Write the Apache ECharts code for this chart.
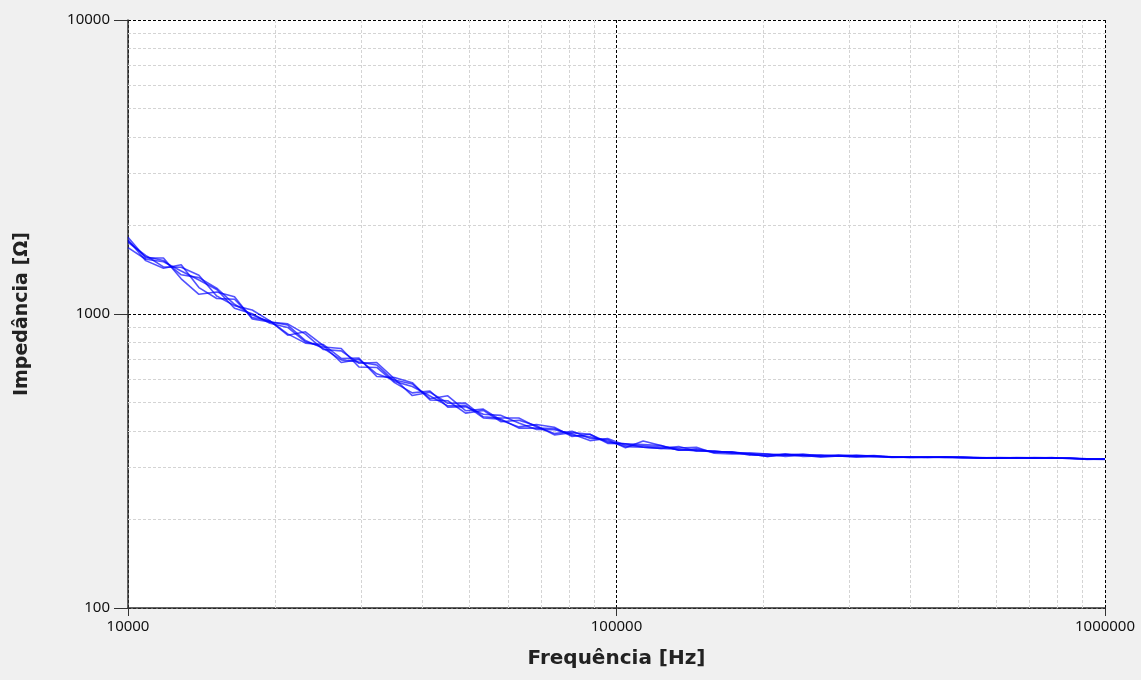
<!DOCTYPE html>
<html>
<head>
<meta charset="utf-8">
<title>Impedância × Frequência</title>
<script src="https://cdn.jsdelivr.net/npm/echarts@6/dist/echarts.min.js"></script>
<style>
  html, body { margin: 0; padding: 0; background: #f0f0f0; }
  #chart { width: 1141px; height: 680px; }
</style>
</head>
<body>
<div id="chart"></div>
<script>
// Measurement frequencies (Hz), log-spaced sweep
var frequencies = [10000, 10870, 11820, 12850, 13970, 15190, 16520, 17960, 19520, 21230,
  23080, 25120, 27320, 29700, 32300, 35120, 38190, 41520, 45150, 49090,
  53380, 58040, 63100, 68610, 74600, 81110, 88200, 95900, 104300, 113400,
  123300, 134100, 145800, 158500, 172300, 187400, 203700, 221500, 240900, 261900,
  284800, 309700, 336700, 366100, 398100, 432900, 470700, 511800, 556500, 605100,
  657900, 715400, 777900, 845800, 919700, 1000000];

// Impedance magnitude (Ω) for each repeated sweep
var sweep1 = [1824, 1550, 1551, 1317, 1167, 1188, 1145, 962, 939, 926,
  854, 757, 749, 680, 684, 602, 528, 542, 497, 498,
  447, 443, 443, 413, 392, 399, 378, 374, 351, 370,
  357, 344, 348, 339, 340, 334, 328, 334, 331, 329,
  329, 331, 328, 327, 325, 326, 326, 325, 324, 324, 324, 323, 324, 323, 322, 321];
var sweep2 = [1753, 1581, 1446, 1443, 1355, 1152, 1068, 1032, 948, 847,
  870, 780, 684, 701, 626, 596, 578, 515, 527, 469,
  475, 435, 413, 421, 412, 383, 390, 366, 362, 352,
  349, 354, 342, 342, 337, 337, 334, 331, 334, 329,
  332, 329, 330, 326, 327, 325, 327, 324, 325, 323, 325, 324, 323, 324, 320, 322];
var sweep3 = [1682, 1535, 1506, 1401, 1305, 1212, 1046, 1002, 930, 900,
  804, 772, 763, 660, 658, 584, 539, 547, 482, 484,
  456, 452, 426, 405, 404, 391, 371, 377, 358, 356,
  353, 350, 352, 336, 334, 334, 334, 328, 331, 332,
  329, 329, 329, 325, 326, 327, 325, 326, 323, 324, 323, 325, 324, 323, 321, 321];
var sweep4 = [1789, 1519, 1431, 1471, 1230, 1129, 1123, 972, 948, 856,
  796, 787, 706, 708, 613, 608, 584, 510, 507, 460,
  470, 430, 435, 417, 388, 395, 390, 363, 362, 360,
  357, 344, 345, 339, 340, 331, 331, 334, 328, 329,
  329, 326, 328, 327, 325, 326, 326, 326, 324, 325, 324, 323, 325, 322, 321, 320];
var sweep5 = [1771, 1566, 1521, 1359, 1330, 1224, 1079, 992, 939, 917,
  812, 764, 698, 687, 671, 590, 567, 526, 487, 489,
  443, 439, 409, 409, 408, 387, 382, 370, 354, 352,
  349, 347, 342, 342, 337, 334, 328, 331, 331, 326,
  329, 328, 328, 326, 326, 325, 326, 325, 324, 323, 324, 324, 323, 323, 322, 321];
var sweeps = [sweep1, sweep2, sweep3, sweep4, sweep5];

// Intermediate decade lines (2..9 × 10^n)
var minorFreqTicks = [20000, 30000, 40000, 50000, 60000, 70000, 80000, 90000,
  200000, 300000, 400000, 500000, 600000, 700000, 800000, 900000];
var minorImpTicks = [200, 300, 400, 500, 600, 700, 800, 900,
  2000, 3000, 4000, 5000, 6000, 7000, 8000, 9000];

var LABEL_FONT = 'Noto Sans';
var TITLE_FONT = 'DejaVu Sans';
var lineColor = 'rgba(0, 0, 255, 0.68)';

function plainNumber(v) { return String(Math.round(v)); }

var series = sweeps.map(function (vals, k) {
  return {
    type: 'line',
    name: 'Varredura ' + (k + 1),
    data: frequencies.map(function (f, i) { return [f, vals[i]]; }),
    showSymbol: false,
    symbol: 'none',
    lineStyle: { color: lineColor, width: 1.6 },
    z: 5,
    animation: false
  };
});

// Light dashed grid at intermediate decade values
var minorLines = minorFreqTicks.map(function (f) { return { xAxis: f }; })
  .concat(minorImpTicks.map(function (v) { return { yAxis: v }; }));
series.unshift({
  type: 'line',
  data: [],
  z: 1,
  silent: true,
  animation: false,
  markLine: {
    silent: true,
    symbol: ['none', 'none'],
    label: { show: false },
    animation: false,
    lineStyle: { color: '#d4d4d4', type: [3, 2], width: 1 },
    emphasis: { disabled: true },
    data: minorLines
  }
});

var chart = echarts.init(document.getElementById('chart'), null, { renderer: 'canvas' });
chart.setOption({
  backgroundColor: '#f0f0f0',
  animation: false,
  grid: {
    left: 128, right: 36, top: 20, bottom: 72,
    show: true, backgroundColor: '#ffffff', borderWidth: 0
  },
  xAxis: {
    type: 'log', logBase: 10, min: 10000, max: 1000000,
    name: 'Frequência [Hz]', nameLocation: 'middle', nameGap: 41,
    nameTextStyle: { fontFamily: TITLE_FONT, fontWeight: 'bold', fontSize: 20, color: '#222' },
    axisLine: { show: true, onZero: false, lineStyle: { color: '#333', width: 1.5 } },
    axisTick: { show: true, length: 8, lineStyle: { color: '#333' } },
    axisLabel: { formatter: plainNumber, fontFamily: LABEL_FONT, fontSize: 15, color: '#111', margin: 11 },
    splitLine: { show: true, lineStyle: { color: '#000', type: [3, 2], width: 1 } },
    minorTick: { show: false }
  },
  yAxis: {
    type: 'log', logBase: 10, min: 100, max: 10000,
    name: 'Impedância [Ω]', nameLocation: 'middle', nameGap: 96, nameRotate: 90,
    nameTextStyle: { fontFamily: TITLE_FONT, fontWeight: 'bold', fontSize: 19, color: '#222' },
    axisLine: { show: true, onZero: false, lineStyle: { color: '#333', width: 1.5 } },
    axisTick: { show: true, length: 14, lineStyle: { color: '#333' } },
    axisLabel: { formatter: plainNumber, fontFamily: LABEL_FONT, fontSize: 15, color: '#111', margin: 18 },
    splitLine: { show: true, lineStyle: { color: '#000', type: [3, 2], width: 1 } },
    minorTick: { show: false }
  },
  series: series
});
</script>
</body>
</html>
